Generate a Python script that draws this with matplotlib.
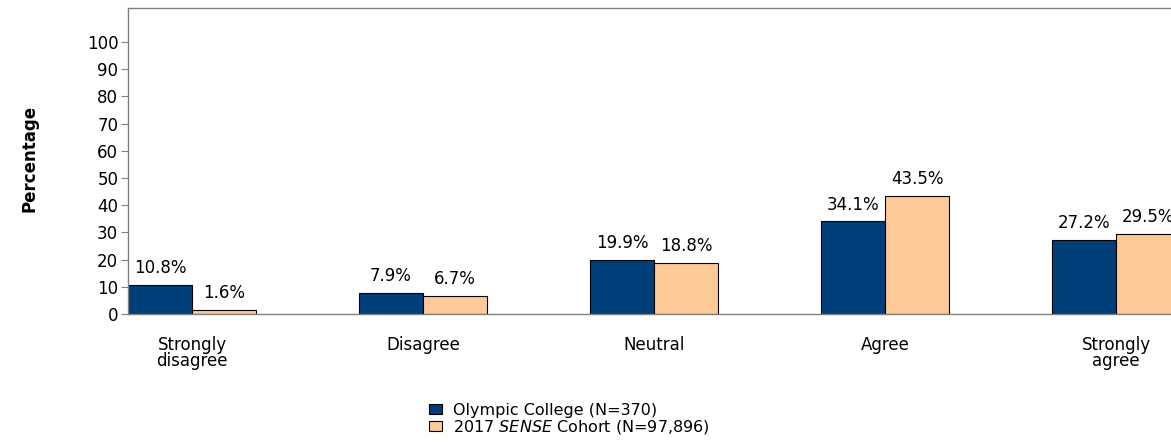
import numpy as np
import matplotlib.pyplot as plt

plt.rcParams['font.family'] = ['DejaVu Sans']

categories = ["Strongly\ndisagree", "Disagree", "Neutral", "Agree", "Strongly\nagree"]
college = [10.8, 7.9, 19.9, 34.1, 27.2]
cohort = [1.6, 6.7, 18.8, 43.5, 29.5]
yticks = [0, 10, 20, 30, 40, 50, 60, 70, 80, 90, 100]

W, H = 1171, 446
fig = plt.figure(figsize=(W / 100, H / 100), dpi=100)
ax = fig.add_axes([128 / W, (H - 314) / H, (1180 - 128) / W, (314 - 8) / H])

x = np.arange(len(categories))
bw = 64 / 231.0
b1 = ax.bar(x - bw / 2, college, bw, color='#003f7a', edgecolor='black', linewidth=0.8,
            label='Olympic College (N=370)')
b2 = ax.bar(x + bw / 2, cohort, bw, color='#fdc996', edgecolor='black', linewidth=0.8,
            label='2017 $\\it{SENSE}$ Cohort (N=97,896)')

for bars in (b1, b2):
    for r in bars:
        ax.text(r.get_x() + r.get_width() / 2, r.get_height() + 2.8, f"{r.get_height():.1f}%",
                ha='center', va='bottom', fontsize=12)

ax.set_xlim(-bw, len(categories) - 1 + bw)
ax.set_ylim(0, 112.5)
ax.set_yticks(yticks)
ax.set_xticks(x)
ax.set_xticklabels(categories, fontsize=12, linespacing=0.85)
ax.tick_params(axis='x', length=0, pad=16)
ax.tick_params(axis='y', length=5, width=0.8, color='#808080', labelsize=12, pad=2)
for s in ax.spines.values():
    s.set_color('#808080')
    s.set_linewidth(1)

fig.text(30 / W, 1 - 158 / H, 'Percentage', rotation=90, ha='center', va='center',
         fontsize=12, fontweight='bold')

fig.legend(handles=[b1, b2], loc='upper left', bbox_to_anchor=(429 / W, 1 - 403 / H),
           frameon=False, fontsize=11.5, handlelength=0.8, handleheight=0.6,
           handletextpad=0.7, labelspacing=0.0, borderpad=0, borderaxespad=0)

fig.savefig('out.png', dpi=100)
